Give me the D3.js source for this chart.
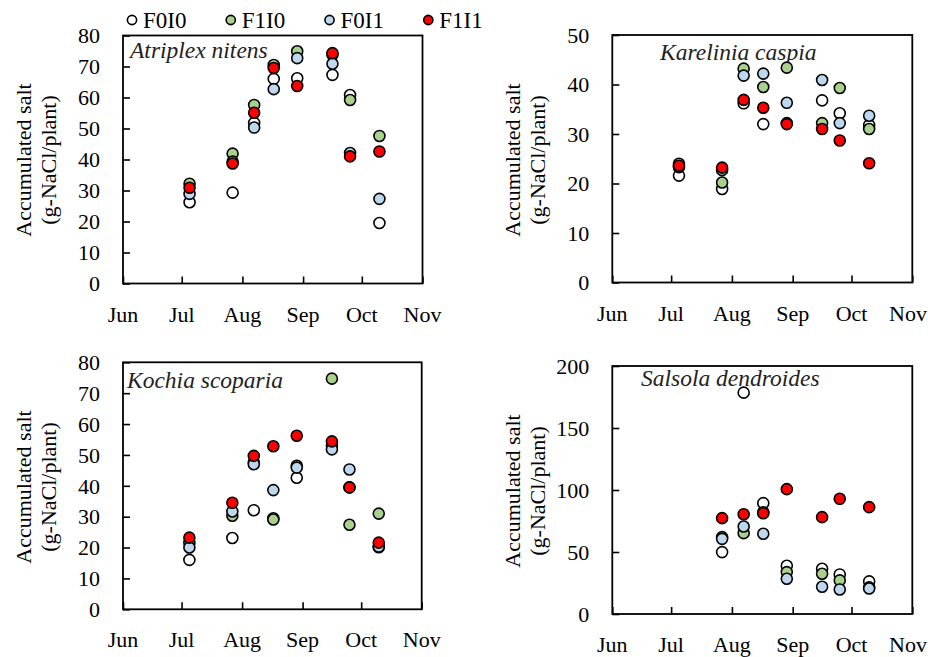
<html><head><meta charset="utf-8"><script src="https://cdn.jsdelivr.net/npm/d3@7"></script></head>
<body style="margin:0">
<svg id="chart" width="928" height="657"></svg>
<script>
// ---------- data ----------
const sampleDates = ["2013-07-05","2013-07-27","2013-08-07","2013-08-17","2013-08-29","2013-09-16","2013-09-25","2013-10-10"];
const monthTicks = ["2013-06-01","2013-07-01","2013-08-01","2013-09-01","2013-10-01","2013-11-01"];
const seriesNames = ["F0I0","F1I0","F0I1","F1I1"];
const seriesColors = ["#ffffff","#a9d18e","#bdd7ee","#ff0000"];
const speciesNames = ["Atriplex nitens","Karelinia caspia","Kochia scoparia","Salsola dendroides"];

const atriplex_F0I0 = [26.2, 29.3, 51.8, 66.0, 66.2, 67.3, 60.8, 19.5];
const atriplex_F1I0 = [32.2, 41.9, 57.6, 70.5, 74.9, 73.8, 59.2, 47.6];
const atriplex_F0I1 = [28.9, 39.3, 50.3, 62.7, 72.7, 70.9, 42.1, 27.3];
const atriplex_F1I1 = [30.9, 38.7, 55.1, 69.5, 63.7, 74.3, 41.0, 42.6];

const karelinia_F0I0 = [21.6, 18.9, 36.2, 32.0, 32.2, 36.8, 34.2, 31.8];
const karelinia_F1I0 = [24.0, 20.2, 43.2, 39.5, 43.4, 32.2, 39.3, 31.0];
const karelinia_F0I1 = [23.3, 22.7, 41.8, 42.2, 36.3, 40.9, 32.2, 33.7];
const karelinia_F1I1 = [23.6, 23.2, 36.9, 35.3, 32.0, 31.0, 28.7, 24.1];

const kochia_F0I0 = [16.0, 23.1, 32.1, 29.5, 42.6, 53.0, 39.5, 20.1];
const kochia_F1I0 = [21.5, 30.3, 47.6, 29.1, 46.5, 74.7, 27.4, 31.0];
const kochia_F0I1 = [20.0, 31.7, 47.0, 38.6, 45.9, 51.8, 45.3, 20.3];
const kochia_F1I1 = [23.2, 34.5, 49.7, 52.8, 56.2, 54.4, 39.5, 21.6];

const salsola_F0I0 = [null, 49.9, 178.5, 89.4, 38.9, 36.5, 31.9, 26.3];
const salsola_F1I0 = [null, 62.0, 65.2, 82.0, 33.8, 32.5, 27.1, 21.5];
const salsola_F0I1 = [null, 60.6, 70.6, 64.7, 28.4, 22.0, 19.8, 20.6];
const salsola_F1I1 = [null, 77.3, 80.5, 81.3, 100.7, 78.1, 92.9, 86.2];

const atriplexTicks = [0,10,20,30,40,50,60,70,80];
const kareliniaTicks = [0,10,20,30,40,50];
const kochiaTicks = [0,10,20,30,40,50,60,70,80];
const salsolaTicks = [0,50,100,150,200];

const yTitle1 = "Accumulated salt";
const yTitle2 = "(g-NaCl/plant)";

// ---------- layout ----------
const panels = [
  { values:[atriplex_F0I0,atriplex_F1I0,atriplex_F0I1,atriplex_F1I1], ticks:atriplexTicks, name:speciesNames[0],
    x0:123, x1:422.5, yT:35.5, yB:283.5, tx:130, ty:58, ax1:23, ax2:48, ay:160 },
  { values:[karelinia_F0I0,karelinia_F1I0,karelinia_F0I1,karelinia_F1I1], ticks:kareliniaTicks, name:speciesNames[1],
    x0:612.3, x1:912.3, yT:35, yB:282.5, tx:660, ty:60, ax1:512, ax2:537, ay:160 },
  { values:[kochia_F0I0,kochia_F1I0,kochia_F0I1,kochia_F1I1], ticks:kochiaTicks, name:speciesNames[2],
    x0:123, x1:421.7, yT:362.3, yB:609.3, tx:127, ty:388, ax1:23, ax2:48, ay:487 },
  { values:[salsola_F0I0,salsola_F1I0,salsola_F0I1,salsola_F1I1], ticks:salsolaTicks, name:speciesNames[3],
    x0:612.3, x1:912.3, yT:366, yB:614, tx:641, ty:386, ax1:512, ax2:537, ay:491 }
];

const W = 928;
const parse = d3.timeParse("%Y-%m-%d");
const dates = sampleDates.map(parse);
const mTicks = monthTicks.map(parse);
const svg = d3.select("#chart");

function addText(parent, str, size, italic) {
  return parent.append("text")
    .style("font-family", `"Liberation Serif"`)
    .style("font-size", size + "px")
    .style("font-style", italic ? "italic" : "normal")
    .attr("fill", "#000")
    .text(str);
}

const fmtMonth = d3.timeFormat("%b");

panels.forEach(p => {
  const x = d3.scaleTime().domain([mTicks[0], mTicks[mTicks.length-1]]).range([p.x0, p.x1]);
  const y = d3.scaleLinear().domain([p.ticks[0], p.ticks[p.ticks.length-1]]).range([p.yB, p.yT]);
  const g = svg.append("g");

  // x axis: inward ticks + month labels
  const xa = g.append("g").attr("transform", `translate(0,${p.yB})`)
    .call(d3.axisBottom(x).tickValues(mTicks).tickFormat("").tickSize(-7));
  xa.select(".domain").remove();
  xa.selectAll("line").attr("stroke","#000").attr("stroke-width",1.6);
  mTicks.forEach(m => {
    const t = addText(g, fmtMonth(m), 22).attr("y", p.yB + 38).attr("text-anchor","middle");
    const half = t.node().getComputedTextLength() / 2;
    t.attr("x", Math.min(x(m), W - 1 - half));
  });

  // y axis: inward ticks + value labels
  const ya = g.append("g").attr("transform", `translate(${p.x0},0)`)
    .call(d3.axisLeft(y).tickValues(p.ticks).tickFormat("").tickSize(-7));
  ya.select(".domain").remove();
  ya.selectAll("line").attr("stroke","#000").attr("stroke-width",1.6);
  p.ticks.forEach(v => {
    addText(g, String(v), 22).attr("x", p.x0 - 23).attr("y", y(v)).attr("dy","0.35em").attr("text-anchor","end");
  });

  // box
  g.append("rect").attr("x",p.x0).attr("y",p.yT).attr("width",p.x1-p.x0).attr("height",p.yB-p.yT)
    .attr("fill","none").attr("stroke","#000").attr("stroke-width",1.8);

  // species title
  addText(g, p.name, 23.5, true).attr("x",p.tx).attr("y",p.ty).attr("fill","#222");

  // y axis titles
  [[yTitle1,p.ax1],[yTitle2,p.ax2]].forEach(([s,cx]) => {
    addText(g, s, 22).attr("transform",`translate(${cx},${p.ay}) rotate(-90)`)
      .attr("dy","0.35em").attr("text-anchor","middle");
  });

  // points
  p.values.forEach((vals, si) => {
    const pts = vals.map((v,i)=>({d:dates[i], v})).filter(d => d.v !== null);
    g.append("g").selectAll("circle").data(pts).join("circle")
      .attr("cx", d => x(d.d)).attr("cy", d => y(d.v)).attr("r",5.5)
      .attr("fill", seriesColors[si]).attr("stroke","#000").attr("stroke-width",1.6);
  });
});

// legend
const legendX = d3.scalePoint().domain(seriesNames).range([132, 428.3]);
const lg = svg.append("g");
seriesNames.forEach((s,i) => {
  lg.append("circle").attr("cx",legendX(s)).attr("cy",20).attr("r",4.6)
    .attr("fill",seriesColors[i]).attr("stroke","#000").attr("stroke-width",1.6);
  addText(lg, s, 23).attr("x",legendX(s)+11).attr("y",27.5);
});
</script>
</body></html>
